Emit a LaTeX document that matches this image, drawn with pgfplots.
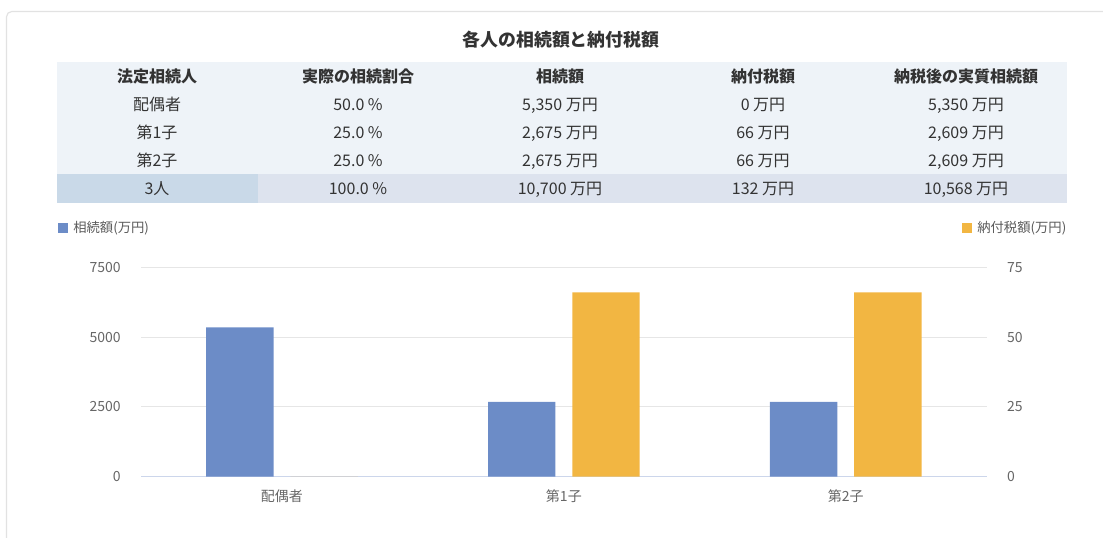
\documentclass[border=0pt]{standalone}
\usepackage{fontspec}
\setmainfont{Noto Sans CJK JP}
\usepackage{pgfplots}
\pgfplotsset{compat=1.18}
\definecolor{barblue}{HTML}{6C8CC7}
\definecolor{barorange}{HTML}{F2B642}
\definecolor{textdark}{HTML}{333333}
\definecolor{ticktext}{HTML}{666666}
\definecolor{legtext}{HTML}{5A5A5A}
\definecolor{cardgray}{HTML}{E2E2E2}
\definecolor{tablebg}{HTML}{EEF3F8}
\definecolor{totalfirst}{HTML}{C9D9E8}
\definecolor{totalrest}{HTML}{DDE3EE}
\definecolor{gridgray}{HTML}{E6E6E6}
\definecolor{axisblue}{HTML}{CCD6EB}

\pgfplotstableread{
x  val
0  5350
1  2675
2  2675
}\inheritdata
\pgfplotstableread{
x  val
0  0
1  66
2  66
}\taxdata

\begin{document}
\begin{tikzpicture}[x=0.75pt,y=0.75pt]
\useasboundingbox (0,0) rectangle (1103,537);
\begin{scope}
\clip (0,0) rectangle (1103,537);
\draw[cardgray, line width=0.9pt, rounded corners=4pt] (6.5,-20) rectangle (1130,525.5);
\end{scope}

% title
\node[font=\bfseries\fontsize{13.4}{16}\selectfont, text=textdark, anchor=base] at (561,537-47) {各人の相続額と納付税額};

% table backgrounds
\fill[tablebg] (57,537-62) rectangle (1067,537-174);
\fill[totalfirst] (57,537-174) rectangle (258,537-203);
\fill[totalrest] (258,537-174) rectangle (1067,537-203);

\begin{scope}[every node/.style={anchor=base, text=textdark, inner sep=0pt, font=\fontsize{12}{14}\selectfont}]
% header
\node[font=\bfseries\fontsize{12}{14}\selectfont] at (157,537-82) {法定相続人};
\node[font=\bfseries\fontsize{12}{14}\selectfont] at (358,537-82) {実際の相続割合};
\node[font=\bfseries\fontsize{12}{14}\selectfont] at (560,537-82) {相続額};
\node[font=\bfseries\fontsize{12}{14}\selectfont] at (763,537-82) {納付税額};
\node[font=\bfseries\fontsize{12}{14}\selectfont] at (966,537-82) {納税後の実質相続額};
% row 1
\node at (157,537-110) {配偶者};
\node at (358,537-110) {50.0 \%};
\node at (560,537-110) {5,350 万円};
\node at (763,537-110) {0 万円};
\node at (966,537-110) {5,350 万円};
% row 2
\node at (157,537-138) {第1子};
\node at (358,537-138) {25.0 \%};
\node at (560,537-138) {2,675 万円};
\node at (763,537-138) {66 万円};
\node at (966,537-138) {2,609 万円};
% row 3
\node at (157,537-166) {第2子};
\node at (358,537-166) {25.0 \%};
\node at (560,537-166) {2,675 万円};
\node at (763,537-166) {66 万円};
\node at (966,537-166) {2,609 万円};
% total
\node at (157,537-194) {3人};
\node at (358,537-194) {100.0 \%};
\node at (560,537-194) {10,700 万円};
\node at (763,537-194) {132 万円};
\node at (966,537-194) {10,568 万円};
\end{scope}

% legends
\fill[barblue] (58,537-233) rectangle (68,537-223);
\node[anchor=west, inner sep=0pt, text=legtext, font=\fontsize{10}{12}\selectfont] at (73,537-228) {相続額(万円)};
\fill[barorange] (962,537-233) rectangle (972,537-223);
\node[anchor=west, inner sep=0pt, text=legtext, font=\fontsize{10}{12}\selectfont] at (977,537-228) {納付税額(万円)};

\pgfplotsset{
  base/.style={
    at={(105.75pt,45.375pt)}, anchor=south west,
    scale only axis, width=634.3pt, height=156.9pt,
    xmin=-0.5, xmax=2.5,
    major tick length=0pt,
    /pgf/number format/assume math mode=true,
    /pgf/number format/1000 sep={},
    ticklabel style={text=ticktext},
    yticklabel style={font=\fontsize{10.5}{12}\selectfont, inner sep=0pt},
  }
}

\begin{axis}[base,
  ymin=0, ymax=7500, ytick={0,2500,5000,7500},
  xtick={0,1,2}, xticklabels={配偶者,第1子,第2子},
  xticklabel style={font=\fontsize{10.5}{12}\selectfont, inner sep=0pt, yshift=-9.5pt},
  axis x line*=bottom, axis y line*=left,
  x axis line style={draw=axisblue, line width=0.75pt, -},
  y axis line style={draw=none},
  ymajorgrids, grid style={gridgray, line width=0.75pt},
  yticklabel style={xshift=-15pt},
]
\addplot[ybar, bar width=50.6pt, bar shift=-31.6pt, fill=barblue, draw=none] table[x=x, y=val] {\inheritdata};
\end{axis}

\begin{axis}[base,
  ymin=0, ymax=75, ytick={0,25,50,75},
  axis x line=none, axis y line*=right,
  y axis line style={draw=none},
  yticklabel style={xshift=15pt},
]
\addplot[ybar, bar width=50.6pt, bar shift=31.6pt, fill=barorange, draw=none] table[x=x, y=val] {\taxdata};
\end{axis}
\end{tikzpicture}
\end{document}
